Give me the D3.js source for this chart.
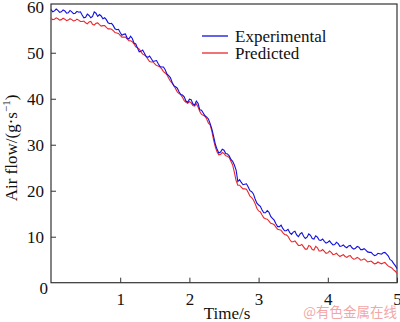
<!DOCTYPE html>
<html><head><meta charset="utf-8">
<script src="https://cdn.jsdelivr.net/npm/d3@7"></script>
<style>body{margin:0;background:#fff}svg{display:block}</style>
</head><body>
<svg id="c" width="400" height="322"></svg>
<script>
const timeStep = 0.025;
const experimental = [
59.4,58.9,59.1,59.5,59.2,58.8,58.9,59.3,59.1,58.6,
58.7,59.2,58.9,58.5,58.6,59.0,58.8,58.9,58.2,57.6,
57.7,58.4,58.1,57.6,57.9,58.9,58.6,57.9,58.3,58.0,
57.4,57.6,57.2,56.5,56.3,56.4,55.9,55.2,55.0,55.1,
54.4,53.8,54.0,54.1,53.2,53.0,53.6,53.1,52.1,51.9,
51.0,50.2,50.3,50.6,49.9,49.2,49.0,49.3,48.7,48.1,
48.2,48.3,47.6,47.0,46.9,46.9,46.3,45.4,45.0,44.6,
43.6,42.8,42.6,42.3,41.5,40.9,40.8,40.4,39.5,39.2,
39.9,39.8,38.9,38.6,39.5,39.0,37.6,37.5,36.9,36.3,
36.0,35.6,34.6,33.4,31.8,30.1,29.0,28.2,28.4,29.0,
28.8,28.1,28.0,27.6,26.8,26.4,25.6,24.5,22.0,22.4,
21.8,21.3,21.4,21.5,20.8,20.0,19.8,19.3,18.2,17.3,
16.9,16.6,15.8,15.2,15.2,15.7,15.3,14.4,14.0,13.6,
12.8,12.2,12.2,12.5,11.8,11.3,11.3,11.6,10.9,10.5,
11.0,11.2,10.4,10.0,10.6,10.9,10.1,9.6,9.9,10.6,
10.3,9.6,9.5,10.2,9.9,9.3,9.2,9.5,9.0,8.6,
8.8,9.1,8.6,8.2,8.3,8.8,8.5,7.9,8.0,8.2,
7.8,7.6,8.0,8.1,7.6,7.3,7.5,7.9,7.7,7.2,
7.2,7.4,7.1,6.7,6.6,6.6,6.2,5.9,6.0,6.4,
6.3,6.2,6.5,6.6,6.2,5.8,5.0,4.8,4.2,3.7,
3.1];
const predicted = [
57.5,57.2,57.3,57.6,57.4,57.1,57.2,57.5,57.3,57.0,
57.1,57.4,57.2,56.9,57.0,57.3,57.1,56.8,56.8,56.9,
56.5,56.3,56.7,56.8,56.2,56.0,56.4,56.5,56.1,55.8,
55.9,55.9,55.5,55.2,55.2,55.1,54.8,54.4,54.3,54.2,
53.8,53.4,53.4,53.4,53.0,52.6,52.6,52.4,51.9,51.3,
51.1,50.8,50.2,49.7,49.5,49.2,48.6,48.1,48.0,48.0,
47.6,47.2,47.1,46.9,46.5,45.9,45.6,45.2,44.5,43.8,
43.4,42.9,42.2,41.5,41.1,40.9,40.3,39.6,39.2,39.0,
39.4,39.1,38.5,38.4,38.9,38.2,37.2,36.6,36.4,36.2,
35.6,34.7,34.3,32.9,31.0,29.5,28.4,27.8,27.9,28.3,
28.1,27.6,27.5,27.2,26.4,25.6,24.0,22.2,21.2,21.2,
20.8,20.4,20.4,20.3,19.6,18.8,18.5,18.0,17.2,16.2,
15.6,15.4,14.7,14.1,13.9,13.8,13.4,12.9,12.8,12.6,
12.1,11.6,11.5,11.4,10.9,10.5,10.4,10.1,9.4,8.9,
8.9,9.1,8.6,8.1,8.1,8.3,7.8,7.3,7.3,8.1,
7.9,7.2,7.1,7.9,7.6,6.9,6.9,7.2,6.8,6.4,
6.5,6.9,6.6,6.1,6.2,6.4,6.0,5.7,5.9,6.1,
5.7,5.5,5.8,5.9,5.4,5.1,5.2,5.5,5.3,4.9,
5.0,5.2,4.9,4.5,4.6,4.7,4.4,4.1,4.2,4.5,
4.3,4.1,4.3,4.4,4.0,3.6,3.4,3.2,2.8,2.5,
2.0];
const xTicks = [1,2,3,4,5];
const yTicks = [10,20,30,40,50,60];
const seriesNames = ["Experimental","Predicted"];
const seriesColors = ["#1010e0","#e8282c"];

const svg = d3.select("#c");
const serif = "'Liberation Serif','Times New Roman',serif";
const L=51, R=397, T=4, B=282.7;
const x = d3.scaleLinear().domain([0,5]).range([L,R]);
const y = d3.scaleLinear().domain([0,60.6]).range([B,T]);

// frame
svg.append("rect").attr("x",L).attr("y",T).attr("width",R-L).attr("height",B-T)
  .attr("fill","none").attr("stroke","#333").attr("stroke-width",1.2);

// ticks (inward)
const gx = svg.append("g").attr("transform",`translate(0,${B})`)
  .call(d3.axisBottom(x).tickValues(xTicks).tickSizeInner(-5).tickSizeOuter(0).tickPadding(10).tickFormat(d3.format("d")));
gx.select(".domain").remove();
gx.selectAll("line").attr("stroke","#333");
gx.selectAll("text").attr("font-family",serif).attr("font-size",17).attr("fill","#111").attr("dy","0.75em");

const gy = svg.append("g").attr("transform",`translate(${L},0)`)
  .call(d3.axisLeft(y).tickValues(yTicks).tickSizeInner(-5).tickSizeOuter(0).tickPadding(7).tickFormat(d3.format("d")));
gy.select(".domain").remove();
gy.selectAll("line").attr("stroke","#333").attr("display",d=>d===60?"none":null);
gy.selectAll("text").attr("font-family",serif).attr("font-size",17).attr("fill","#111");

// origin label
svg.append("text").attr("x",48).attr("y",294).attr("text-anchor","end")
  .attr("font-family",serif).attr("font-size",17).attr("fill","#111").text("0");

// lines
const line = d3.line().x((d,i)=>x(i*timeStep)).y(d=>y(d));
[[predicted,1],[experimental,0]].forEach(([s,idx])=>{
  svg.append("path").datum(s).attr("d",line).attr("fill","none")
    .attr("stroke",seriesColors[idx]).attr("stroke-width",1.1);
});

// legend
seriesNames.forEach((n,i)=>{
  const ly = 36 + i*17;
  svg.append("line").attr("x1",202).attr("x2",228).attr("y1",ly).attr("y2",ly)
    .attr("stroke",seriesColors[i]).attr("stroke-width",1.3);
  svg.append("text").attr("x",235).attr("y",ly).attr("dy","0.35em")
    .attr("font-family",serif).attr("font-size",17).attr("fill","#111").text(n);
});

// axis titles
svg.append("text").attr("x",227).attr("y",319).attr("text-anchor","middle")
  .attr("font-family",serif).attr("font-size",17).attr("fill","#111").text("Time/s");
const yl = svg.append("text").attr("transform","translate(17,148) rotate(-90)").attr("text-anchor","middle")
  .attr("font-family",serif).attr("font-size",17).attr("fill","#111");
yl.append("tspan").text("Air flow/(g·s");
yl.append("tspan").attr("font-size",11).attr("dy",-7).text("−1");
yl.append("tspan").attr("dy",7).text(")");

// watermark
svg.append("text").attr("x",397).attr("y",317).attr("text-anchor","end")
  .attr("font-family","'Noto Sans CJK SC',sans-serif").attr("font-size",13.5).attr("fill","#f2a7a7").text("@有色金属在线");
</script>
</body></html>
